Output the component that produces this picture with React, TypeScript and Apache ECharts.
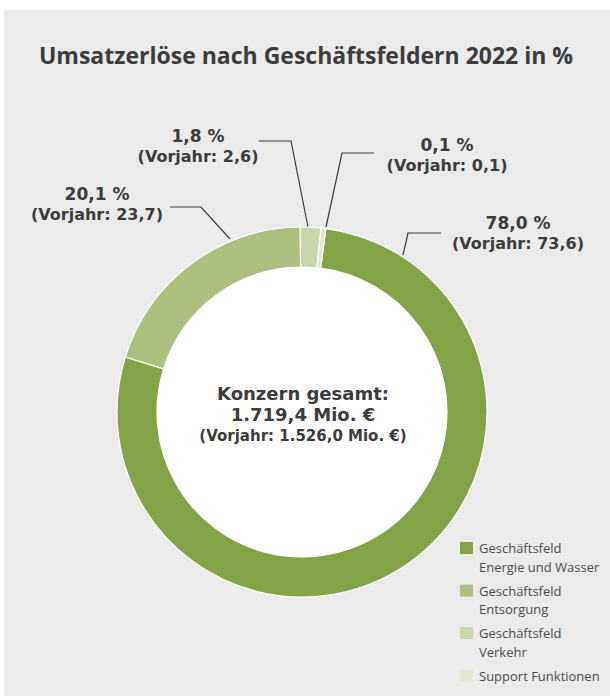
import React, { useEffect, useRef } from "react";
import * as echarts from "echarts";

const TITLE = "Umsatzerlöse nach Geschäftsfeldern 2022 in %";
const categories = [
  "Geschäftsfeld\nEnergie und Wasser",
  "Geschäftsfeld\nEntsorgung",
  "Geschäftsfeld\nVerkehr",
  "Support Funktionen",
];
const shares2022 = [78.0, 20.1, 1.8, 0.1];
const sharesPrev = [73.6, 23.7, 2.6, 0.1];
const colors = ["#82a447", "#adbf7e", "#cbd6aa", "#e2e8d0"];
const centerLines = ["Konzern gesamt:", "1.719,4 Mio. €", "(Vorjahr: 1.526,0 Mio. €)"];

// label layout (positions only)
const labelCenters = [
  [518, 233],
  [97, 204],
  [198, 146],
  [447, 155],
];
const labelLines = [
  [[403, 255], [408, 233], [441, 233]],
  [[230, 239], [201, 207], [170, 207]],
  [[308, 227], [291, 141], [259, 141]],
  [[326, 227], [342, 153], [374, 153]],
];

const FONT = "'Open Sans', 'Noto Sans', sans-serif";
const BOLD_FONT = "'DejaVu Sans', 'Open Sans', sans-serif";
const TEXT = "#3c3c3c";

const fmt = (v: number) => v.toFixed(1).replace(".", ",");

export default function App() {
  const ref = useRef<HTMLDivElement>(null);
  useEffect(() => {
    if (!ref.current) return;
    const chart = echarts.init(ref.current, undefined, { renderer: "svg" });
    const legendGraphics: any[] = [];
    categories.forEach((name, i) => {
      const top = 542 + i * 42.6;
      legendGraphics.push({
        type: "rect",
        shape: { x: 460, y: top, width: 13, height: 12 },
        style: { fill: colors[i] },
        silent: true,
      });
      legendGraphics.push({
        type: "text",
        x: 479,
        y: top - 3,
        style: {
          text: name,
          fill: "#4d4d4d",
          font: `13px ${FONT}`,
          lineHeight: 18.5,
          verticalAlign: "top",
          align: "left",
        },
        silent: true,
      });
    });
    const centerY = [393.5, 414.5, 435.5];
    const centerSize = [18, 18, 15];
    const centerGraphics = centerLines.map((t, i) => ({
      type: "text",
      x: 303,
      y: centerY[i],
      z: 10,
      style: {
        text: t,
        fill: TEXT,
        font: `bold ${centerSize[i]}px ${BOLD_FONT}`,
        align: "center",
        verticalAlign: "middle",
      },
      silent: true,
    }));
    chart.setOption({
      animation: false,
      backgroundColor: "#ffffff",
      textStyle: { fontFamily: FONT },
      graphic: [
        {
          type: "rect",
          shape: { x: 4, y: 10, width: 610, height: 700 },
          style: { fill: "#ebebeb" },
          z: -10,
          silent: true,
        },
        {
          type: "circle",
          shape: { cx: 302, cy: 412, r: 146 },
          style: { fill: "#ffffff" },
          z: 1,
          silent: true,
        },
        {
          type: "text",
          x: 306,
          y: 55,
          style: {
            text: TITLE,
            fill: TEXT,
            font: `bold 23px ${FONT}`,
            align: "center",
            verticalAlign: "middle",
          },
          silent: true,
        },
        ...centerGraphics,
        ...legendGraphics,
      ],
      series: [
        {
          type: "pie",
          silent: true,
          z: 3,
          center: [302, 412],
          radius: [145, 185],
          startAngle: 82.6,
          clockwise: true,
          minAngle: 1.5,
          avoidLabelOverlap: false,
          itemStyle: { borderColor: "#ffffff", borderWidth: 1.2 },
          emphasis: { disabled: true },
          label: {
            show: true,
            position: "outside",
            formatter: (p: any) =>
              `{v|${fmt(shares2022[p.dataIndex])} %}\n{p|(Vorjahr: ${fmt(sharesPrev[p.dataIndex])})}`,
            rich: {
              v: { fontFamily: BOLD_FONT, fontWeight: "bold", fontSize: 17, color: TEXT, lineHeight: 21, align: "center" },
              p: { fontFamily: BOLD_FONT, fontWeight: "bold", fontSize: 16, color: TEXT, lineHeight: 21, align: "center" },
            },
          },
          labelLine: {
            show: true,
            lineStyle: { color: TEXT, width: 1.2 },
          },
          labelLayout: (params: any) => {
            const i = params.dataIndex;
            return {
              x: labelCenters[i][0],
              y: labelCenters[i][1],
              align: "center",
              verticalAlign: "middle",
              labelLinePoints: labelLines[i].map((p) => [p[0], p[1]]),
            };
          },
          data: categories.map((name, i) => ({
            name,
            value: shares2022[i],
            itemStyle: { color: colors[i] },
          })),
        },
      ],
    });
    return () => chart.dispose();
  }, []);
  return (
    <div
      ref={ref}
      style={{ position: "absolute", left: 0, top: 0, width: 610, height: 696 }}
    />
  );
}
